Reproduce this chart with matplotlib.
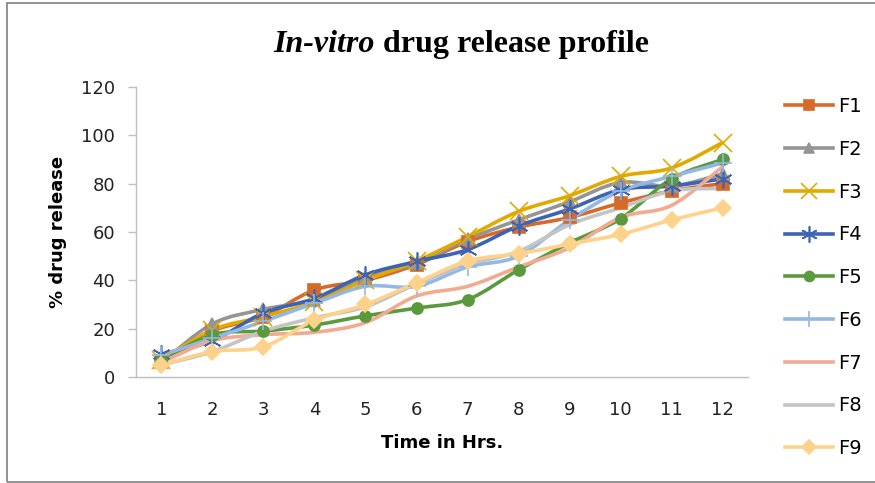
import numpy as np
import matplotlib
matplotlib.use("Agg")
import matplotlib.pyplot as plt
from matplotlib.path import Path
from matplotlib.patches import PathPatch, Rectangle
from matplotlib.lines import Line2D

# data
hours = [1, 2, 3, 4, 5, 6, 7, 8, 9, 10, 11, 12]
F1 = [6, 19, 25, 36, 40, 46.5, 56, 62, 66, 72, 77, 80]
F2 = [6, 22, 28, 32, 41, 47, 57, 65, 72.5, 80.5, 79, 84]
F3 = [7, 19.5, 25, 31, 40, 48, 58, 68.5, 75, 83, 86.5, 97]
F4 = [9.5, 15, 26.5, 32.5, 42.3, 47.8, 52.7, 62.5, 69.5, 77.5, 79, 82]
F5 = [7, 17.5, 19, 21.5, 25.3, 28.5, 32, 44.3, 55.5, 65.5, 82, 90]
F6 = [9, 16, 23, 30.5, 37.5, 37.5, 45.5, 50, 65, 77, 83, 88.5]
F7 = [6, 15, 17.5, 18.5, 22.5, 33.5, 37.5, 45.5, 53.5, 66, 71, 87]
F8 = [5, 10.5, 19, 24.5, 29, 38.5, 46.5, 52, 63, 70, 77, 78]
F9 = [5, 10.5, 12.5, 23.5, 30, 39, 48, 51, 55, 59, 65, 70]
names = ['F1', 'F2', 'F3', 'F4', 'F5', 'F6', 'F7', 'F8', 'F9']
series = [F1, F2, F3, F4, F5, F6, F7, F8, F9]

colors = ['#D86A28', '#959595', '#E2A900', '#3D64B4', '#5B9A3C',
          '#94B8E4', '#F2AA90', '#C4C4C4', '#FFD28C']
markers = ['s', '^', 'x', (6, 2, 0), 'o', '+', None, None, 'D']
msizes = [8, 8, 13, 13, 8, 13, 0, 0, 8]


def smooth_path(x, y):
    # Excel-like smoothed line: cubic bezier segments through the points
    p = np.column_stack([x, y]).astype(float)
    n = len(p)
    verts = [p[0]]
    codes = [Path.MOVETO]
    for i in range(n - 1):
        p0 = p[i - 1] if i > 0 else p[i]
        p3 = p[i + 2] if i + 2 < n else p[i + 1]
        c1 = p[i] + (p[i + 1] - p0) / 6.0
        c2 = p[i + 1] - (p3 - p[i]) / 6.0
        verts += [c1, c2, p[i + 1]]
        codes += [Path.CURVE4] * 3
    return Path(verts, codes)


plt.rcParams['font.family'] = ['DejaVu Sans']
fig = plt.figure(figsize=(8.75, 4.83), dpi=100)
ax = fig.add_axes([0.1554, 0.2195, 0.6995, 0.6004])

for i, (nm, ys) in enumerate(zip(names, series)):
    ax.add_patch(PathPatch(smooth_path(hours, ys), fill=False,
                           edgecolor=colors[i], lw=2.6, zorder=2 + i * 0.01,
                           capstyle='round', joinstyle='round'))
    if markers[i] is not None:
        ax.plot(hours, ys, linestyle='none', marker=markers[i],
                ms=msizes[i], color=colors[i], mec=colors[i], mew=1.2,
                zorder=3 + i * 0.01)

ax.set_xlim(0.5, 12.5)
ax.set_ylim(0, 120)
ax.set_xticks(hours)
ax.set_yticks(range(0, 121, 20))
ax.tick_params(axis='x', length=0, pad=17, labelsize=13, labelcolor='#222222')
ax.tick_params(axis='y', length=6, width=1, color='#BFBFBF', pad=9,
               labelsize=13, labelcolor='#222222')
for s in ['top', 'right']:
    ax.spines[s].set_visible(False)
for s in ['left', 'bottom']:
    ax.spines[s].set_color('#BFBFBF')
    ax.spines[s].set_linewidth(1)
ax.set_xlabel('Time in Hrs.', fontsize=13, fontweight='bold', labelpad=11)
ax.set_ylabel('% drug release', fontsize=13, fontweight='bold', labelpad=10)

# title with italic part
fig.text(0.4286, 0.907, 'In-vitro', family='Liberation Serif', style='italic',
         fontweight='bold', fontsize=23, ha='right', va='center')
fig.text(0.4286, 0.907, ' drug release profile', family='Liberation Serif',
         fontweight='bold', fontsize=23, ha='left', va='center')

handles = []
for i, nm in enumerate(names):
    handles.append(Line2D([0], [0], color=colors[i], lw=2.6,
                          marker=markers[i] if markers[i] is not None else None,
                          ms=msizes[i] * 0.9, mec=colors[i], mew=1.2, label=nm))
fig.legend(handles=handles, loc='upper left', bbox_to_anchor=(0.888, 0.8147),
           frameon=False, fontsize=14, handlelength=2.47, handletextpad=0.25,
           labelspacing=1.22, borderaxespad=0)

fig.add_artist(Rectangle((7 / 875, 0.003), 1.0, 0.99, transform=fig.transFigure,
                         fill=False, edgecolor='#808080', lw=1.2))

fig.savefig('out.png', dpi=100)
